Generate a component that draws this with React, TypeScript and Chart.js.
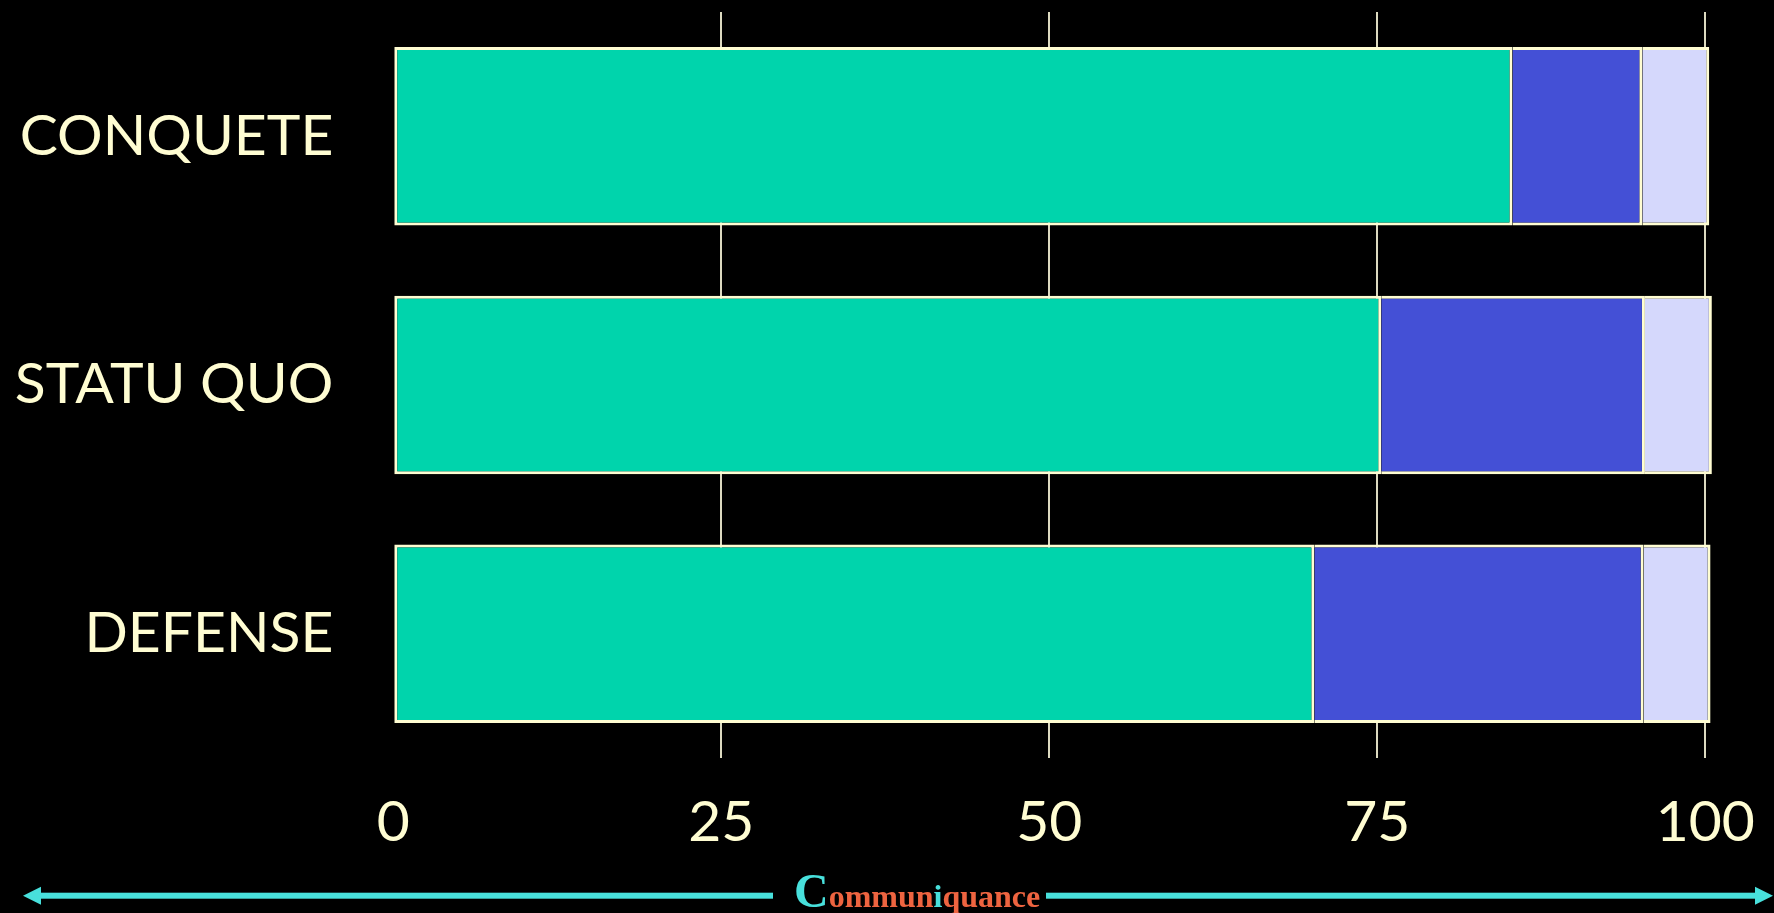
import React, { useEffect, useRef } from "react";
import { Chart, registerables } from "chart.js";

Chart.register(...registerables);

// Categories (rows) and the three stacked shares, in percent
const categories = ["CONQUETE", "STATU QUO", "DEFENSE"];
const seriesNames = ["Série A", "Série B", "Série C"];
const seriesA = [85.3, 75.3, 70.2];
const seriesB = [9.9, 20.1, 25.1];
const seriesC = [5.1, 5.1, 5.1];
const tickValues = [0, 25, 50, 75, 100];

const CREAM = "#fffdd2";
const GRID = "#dcdac0";
const GREEN = "#00d4ac";
const BLUE = "#4450d6";
const LILAC = "#d5d8fc";
const CYAN = "#48e0dc";
const ORANGE = "#ee6440";

const W = 1774;
const H = 913;

// Keep Chart.js from reserving extra room for overflowing tick labels
const noScalePadding = (scale: any) => {
  scale.paddingTop = 0;
  scale.paddingBottom = 0;
  scale.paddingLeft = 0;
  scale.paddingRight = 0;
};

export default function App() {
  const canvasRef = useRef<HTMLCanvasElement | null>(null);

  useEffect(() => {
    document.body.style.margin = "0";
    document.body.style.background = "#000";
    const canvas = canvasRef.current;
    if (!canvas) return;

    const labelFont = { family: "Lato", size: 57 };

    const chart = new Chart(canvas, {
      type: "bar",
      data: {
        labels: categories,
        datasets: [
          {
            label: seriesNames[0],
            data: seriesA,
            backgroundColor: GREEN,
            borderColor: CREAM,
            borderWidth: 3,
            borderSkipped: false,
            clip: false,
          },
          {
            label: seriesNames[1],
            data: seriesB,
            backgroundColor: BLUE,
            borderColor: CREAM,
            borderWidth: 3,
            borderSkipped: "left",
            clip: false,
          },
          {
            label: seriesNames[2],
            data: seriesC,
            backgroundColor: LILAC,
            borderColor: CREAM,
            borderWidth: 3,
            borderSkipped: "left",
            clip: false,
          },
        ],
      },
      options: {
        indexAxis: "y",
        animation: false,
        responsive: false,
        maintainAspectRatio: false,
        datasets: {
          bar: { barPercentage: 0.7175, categoryPercentage: 1 },
        },
        layout: { padding: { left: 0, right: 68.7, top: 12, bottom: 0 } },
        plugins: {
          legend: { display: false },
          tooltip: { enabled: false },
        },
        scales: {
          x: {
            stacked: true,
            position: "bottom",
            min: 0,
            max: 100,
            afterBuildTicks: (scale: any) => {
              scale.ticks = tickValues.map((v) => ({ value: v }));
            },
            afterFit: (scale: any) => {
              scale.height = 155;
              noScalePadding(scale);
            },
            grid: {
              color: (ctx: any) =>
                ctx.tick && ctx.tick.value === 0 ? "rgba(0,0,0,0)" : GRID,
              lineWidth: 2,
              drawTicks: false,
            },
            border: { display: false },
            ticks: {
              color: CREAM,
              font: labelFont,
              padding: 30,
              maxRotation: 0,
              autoSkip: false,
            },
          },
          y: {
            stacked: true,
            afterFit: (scale: any) => {
              scale.width = 393.3;
              noScalePadding(scale);
            },
            grid: { display: false, drawTicks: false },
            border: { display: false },
            ticks: {
              color: CREAM,
              font: labelFont,
              padding: 60,
            },
          },
        },
      },
    });

    return () => chart.destroy();
  }, []);

  return (
    <div
      style={{
        position: "fixed",
        left: 0,
        top: 0,
        width: W,
        height: H,
        background: "#000",
        overflow: "hidden",
      }}
    >
      <canvas
        ref={canvasRef}
        width={W}
        height={H}
        style={{ display: "block", width: W, height: H }}
      />
      <svg
        width={W}
        height={H}
        style={{ position: "absolute", left: 0, top: 0, pointerEvents: "none" }}
      >
        <rect x={40} y={892.7} width={733} height={6} fill={CYAN} />
        <polygon points="23,895.7 41,886.7 41,904.7" fill={CYAN} />
        <rect x={1046} y={892.7} width={710} height={6} fill={CYAN} />
        <polygon points="1773,895.7 1755,886.7 1755,904.7" fill={CYAN} />
        <text
          x={794}
          y={906.5}
          fontFamily="'Liberation Serif', 'DejaVu Serif', serif"
          fontWeight="bold"
        >
          <tspan fill={CYAN} fontSize={48}>C</tspan>
          <tspan fill={ORANGE} fontSize={32}>ommun</tspan>
          <tspan fill={CYAN} fontSize={32}>i</tspan>
          <tspan fill={ORANGE} fontSize={32}>quance</tspan>
        </text>
      </svg>
    </div>
  );
}
